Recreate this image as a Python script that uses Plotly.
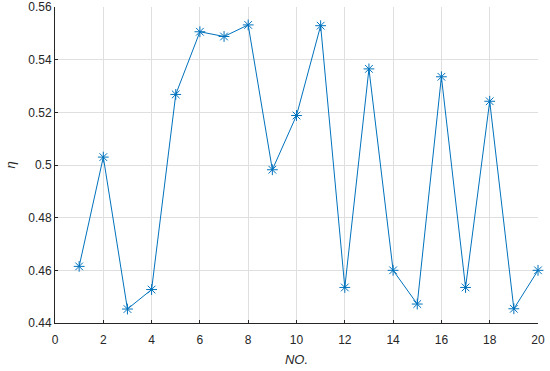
import plotly.graph_objects as go

no = list(range(1, 21))
eta = [0.4615, 0.5030, 0.4453, 0.4527, 0.5268, 0.5506, 0.5488, 0.5532, 0.4982, 0.5188,
       0.5529, 0.4535, 0.5365, 0.4600, 0.4472, 0.5335, 0.4535, 0.5242, 0.4454, 0.4600]

x_ticks = [0, 2, 4, 6, 8, 10, 12, 14, 16, 18, 20]
y_ticks = [0.44, 0.46, 0.48, 0.50, 0.52, 0.54, 0.56]
y_ticktext = ["0.44", "0.46", "0.48", "0.5", "0.52", "0.54", "0.56"]

color = "#0072BD"
axis_col = "#262626"
grid_col = "#DFDFDF"
font_fam = "Liberation Sans, Arial, sans-serif"

fig = go.Figure()
fig.add_trace(go.Scatter(
    x=no, y=eta, mode="lines+markers",
    line=dict(color=color, width=1),
    marker=dict(symbol="asterisk-open", size=9, color=color,
                line=dict(color=color, width=1)),
    showlegend=False,
    cliponaxis=False,
))

fig.update_layout(
    template="none",
    width=550, height=371,
    margin=dict(l=55, r=12, t=7, b=48, autoexpand=False),
    paper_bgcolor="white", plot_bgcolor="white",
    font=dict(family=font_fam, size=12, color=axis_col),
)
fig.update_xaxes(
    range=[0, 20], tickvals=x_ticks, ticktext=[str(v) for v in x_ticks],
    showgrid=True, gridcolor=grid_col, gridwidth=1,
    showline=True, linecolor=axis_col, linewidth=1,
    ticks="inside", ticklen=3, tickcolor=axis_col,
    zeroline=False, mirror=False, automargin=False,
    ticklabelstandoff=6,
    tickfont=dict(size=12, color=axis_col),
    title=dict(text="<i>NO.</i>", font=dict(size=13, color=axis_col), standoff=8),
)
fig.update_yaxes(
    range=[0.44, 0.56], tickvals=y_ticks, ticktext=y_ticktext,
    showgrid=True, gridcolor=grid_col, gridwidth=1,
    showline=True, linecolor=axis_col, linewidth=1,
    ticks="inside", ticklen=3, tickcolor=axis_col,
    zeroline=False, mirror=False, automargin=False,
    tickfont=dict(size=12, color=axis_col),
    title=dict(text="<i>η</i>", font=dict(size=13, color=axis_col), standoff=9),
)

fig.write_html("out.html", config={"displayModeBar": False},
               post_script="document.body.style.margin='0';")
